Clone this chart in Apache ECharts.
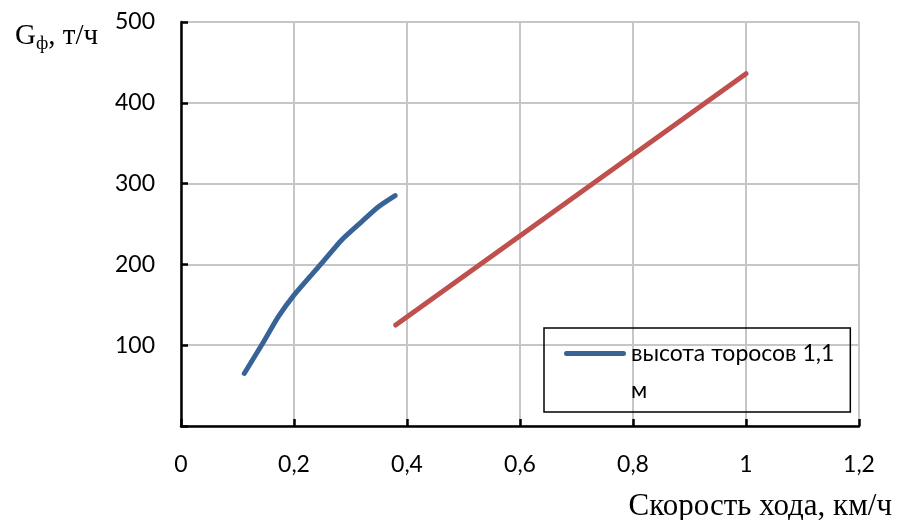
<!DOCTYPE html>
<html>
<head>
<meta charset="utf-8">
<script src="https://cdn.jsdelivr.net/npm/echarts@6/dist/echarts.min.js"></script>
<style>
  html, body { margin: 0; padding: 0; background: #fff; }
  #chart { width: 900px; height: 520px; }
</style>
</head>
<body>
<div id="chart"></div>
<script>
var xTicks = [0, 0.2, 0.4, 0.6, 0.8, 1, 1.2];
var yTicks = [0, 100, 200, 300, 400, 500];

// высота торосов 1,1 м
var blueX = [0.112, 0.146, 0.172, 0.2, 0.246, 0.284, 0.32, 0.349, 0.379];
var blueY = [65, 104, 135, 162, 199, 230, 253, 271, 285];

// вторая линия (без легенды)
var redX = [0.38, 1.0];
var redY = [125, 436];

var chart = echarts.init(document.getElementById('chart'));

function pairs(xs, ys) {
    return xs.map(function (x, i) {
        return [x, ys[i]];
    });
}

var labelFont = 'Lato, "Open Sans", sans-serif';
var serifFont = '"Liberation Serif", "DejaVu Serif", serif';

var option = {
    animation: false,
    title: [{
        left: 10,
        top: 14,
        text: '{g|G}{sub|ф}{g|, т/ч}',
        textStyle: {
            rich: {
                g: { fontFamily: serifFont, fontSize: 29, fontWeight: 'normal', color: '#000' },
                sub: { fontFamily: serifFont, fontSize: 19, fontWeight: 'normal', color: '#000', padding: [16, 0, 0, 0] }
            }
        }
    }, {
        right: 3,
        top: 486,
        text: 'Скорость хода, км/ч',
        textStyle: { fontFamily: serifFont, fontSize: 31, fontWeight: 'normal', color: '#000' }
    }],
    grid: {
        left: 181,
        right: 41,
        top: 22,
        bottom: 94
    },
    legend: {
        data: ['высота торосов 1,1 м'],
        left: 544,
        top: 328,
        orient: 'vertical',
        borderColor: '#000',
        borderWidth: 1.5,
        padding: [7, 16, 3, 20],
        itemWidth: 62,
        itemHeight: 42,
        itemGap: 0,
        // short bar at the top of the icon box so it sits on the first text line
        icon: 'path://M2.5,0 L59.5,0 A2.5,2.5 0 0 1 59.5,5 L2.5,5 A2.5,2.5 0 0 1 2.5,0 Z M0,42 M62,42',
        formatter: function () {
            return 'высота торосов 1,1\nм';
        },
        textStyle: { fontFamily: labelFont, fontSize: 23, color: '#000', lineHeight: 37 }
    },
    xAxis: {
        type: 'value',
        min: xTicks[0],
        max: xTicks[xTicks.length - 1],
        interval: 0.2,
        axisLine: { lineStyle: { color: '#000', width: 2.5 } },
        axisTick: { inside: true, length: 7, lineStyle: { color: '#000', width: 2.5 } },
        axisLabel: {
            margin: 27,
            fontFamily: labelFont,
            fontSize: 23,
            color: '#000',
            formatter: function (v) {
                return String(Math.round(v * 10) / 10).replace('.', ',');
            }
        },
        splitLine: { show: true, lineStyle: { color: '#c6c6c6', width: 2 } }
    },
    yAxis: {
        type: 'value',
        min: yTicks[0],
        max: yTicks[yTicks.length - 1],
        interval: 100,
        axisLine: { show: true, lineStyle: { color: '#000', width: 2.5 } },
        axisTick: { show: true, inside: true, length: 7, lineStyle: { color: '#000', width: 2.5 } },
        axisLabel: {
            margin: 26,
            fontFamily: labelFont,
            fontSize: 23,
            color: '#000',
            formatter: function (v) {
                return v === 0 ? '' : String(v);
            }
        },
        splitLine: { show: true, lineStyle: { color: '#c6c6c6', width: 2 } }
    },
    series: [{
        name: 'высота торосов 1,1 м',
        type: 'line',
        smooth: 0.2,
        showSymbol: false,
        data: pairs(blueX, blueY),
        itemStyle: { color: '#386396' },
        lineStyle: { color: '#386396', width: 5, cap: 'round' }
    }, {
        name: 'red',
        type: 'line',
        showSymbol: false,
        data: pairs(redX, redY),
        itemStyle: { color: '#c0504d' },
        lineStyle: { color: '#c0504d', width: 5, cap: 'round' }
    }]
};

chart.setOption(option);
</script>
</body>
</html>
